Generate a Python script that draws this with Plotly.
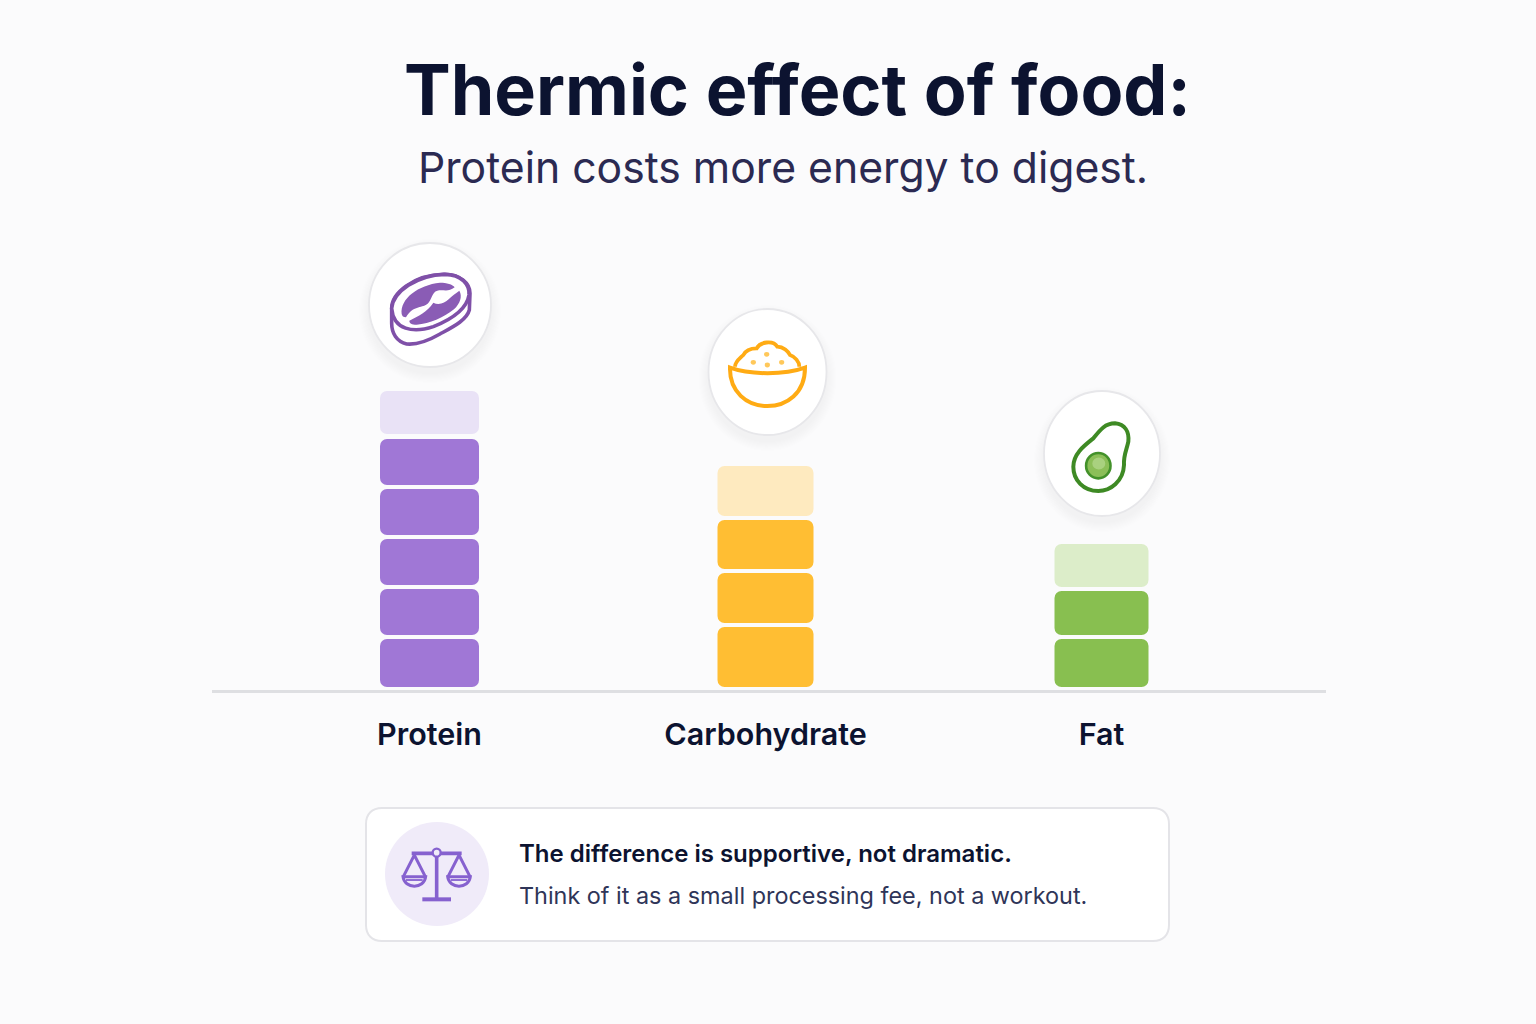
import re
import plotly.graph_objects as go

# ---------- data ----------
categories = ["Protein", "Carbohydrate", "Fat"]
protein_heights = [48, 46, 46, 46, 46, 43]
protein_bases = [3, 55, 105, 155, 205, 256]
protein_colors = ["#a077d6"] * 5 + ["#e9e2f6"]
carb_heights = [60, 50, 49, 50]
carb_bases = [3, 67, 121, 174]
carb_colors = ["#ffbe33"] * 3 + ["#feeabf"]
fat_heights = [48, 44, 43]
fat_bases = [3, 55, 103]
fat_colors = ["#88bf50"] * 2 + ["#dcedc9"]
bar_widths = [99 / 336, 96 / 336, 94 / 336]

TITLE = "Thermic effect of food:"
SUBTITLE = "Protein costs more energy to digest."
NOTE_HEAD = "The difference is supportive, not dramatic."
NOTE_BODY = "Think of it as a small processing fee, not a workout."

W, H = 1536, 1024
INK = "#0c1330"
FONT = "Inter"


def px(path, ox=0.0, oy=0.0, s=1.0):
    """Convert an absolute M/L/C/Z path in pixels to paper coordinates."""
    toks = re.findall(r"[MLCZ]|-?\d+\.?\d*", path)
    out, is_x = [], True
    for t in toks:
        if t in "MLCZ":
            out.append(t)
            is_x = True
        elif is_x:
            out.append(f"{(ox + float(t) * s) / W:.5f}")
            is_x = False
        else:
            out.append(f"{1 - (oy + float(t) * s) / H:.5f}")
            is_x = True
    res, i = [], 0
    while i < len(out):
        if out[i] in "MLCZ":
            res.append(out[i])
            i += 1
        else:
            res.append(out[i] + "," + out[i + 1])
            i += 2
    return " ".join(res)


shapes = []


def ellipse(cx, cy, rx, ry, fill, line=None, lw=0, opacity=1):
    shapes.append(dict(type="circle", xref="paper", yref="paper",
                       x0=(cx - rx) / W, x1=(cx + rx) / W,
                       y0=1 - (cy + ry) / H, y1=1 - (cy - ry) / H,
                       fillcolor=fill, opacity=opacity,
                       line=dict(color=line or "rgba(0,0,0,0)", width=lw)))


def path(d, ox=0.0, oy=0.0, s=1.0, fill=None, line=None, lw=0):
    shapes.append(dict(type="path", xref="paper", yref="paper",
                       path=px(d, ox, oy, s),
                       fillcolor=fill or "rgba(0,0,0,0)",
                       line=dict(color=line or "rgba(0,0,0,0)", width=lw)))


def badge(cx, cy, rx, ry):
    for k in range(9, 0, -1):
        ellipse(cx, cy + 6, rx + k * 1.1, ry + k * 1.1, "#50506e", opacity=0.006)
    ellipse(cx, cy, rx, ry, "#ffffff", "#e7e7ea", 1.8)


# badges
badge(430, 305, 61, 62)
badge(767.5, 372, 59, 63)
badge(1102, 453.5, 58, 62.5)

# meat icon (drawn in 3x crop units)
MO = (350, 230, 1 / 3)
MEAT = "#7f50a8"
path("M 125 235 C 125 190 190 135 280 133 C 330 132 360 160 360 190 L 358 240 "
     "C 350 270 310 290 270 312 C 230 335 200 345 170 342 C 140 335 125 310 125 280 Z",
     *MO, fill="#ffffff", line=MEAT, lw=3.6)
path("M 125 235 C 130 185 200 135 285 133 C 335 133 360 165 357 195 "
     "C 350 240 300 270 250 290 C 190 310 130 300 125 235 Z",
     *MO, fill="#ffffff", line=MEAT, lw=3.6)
path("M 155 252 C 150 205 205 165 270 158 C 290 158 308 163 314 172 C 295 188 280 178 262 182 "
     "C 245 186 245 212 232 222 C 212 236 190 226 168 262 C 160 262 156 258 155 252 Z",
     *MO, fill="#8a5cb5")
path("M 178 272 C 205 258 232 246 250 218 C 265 226 285 220 296 208 C 305 198 318 190 328 182 "
     "C 338 200 330 220 312 238 C 280 262 240 282 200 284 C 185 284 178 280 178 272 Z",
     *MO, fill="#8a5cb5")

# rice bowl
BO = (690, 300, 1 / 3)
GOLD = "#ffab14"
path("M 135 200 C 135 185 150 175 160 165 C 170 145 190 145 200 145 C 210 125 250 120 262 140 "
     "C 280 140 295 155 300 165 C 315 170 328 185 328 200", *BO, line=GOLD, lw=3.8)
path("M 120 203 C 180 225 285 225 345 203 C 345 280 290 318 232 318 C 170 318 118 275 120 203 Z",
     *BO, fill="#ffffff", line=GOLD, lw=4)
for zx, zy in [(230, 163), (190, 187), (232, 195), (275, 187)]:
    ellipse(690 + zx / 3, 300 + zy / 3, 2.6, 2.4, "#ffc85a")

# avocado
AO = (1030, 385, 1 / 3)
path("M 130 245 C 130 205 165 180 190 160 C 210 135 225 115 255 115 C 285 118 298 140 295 170 "
     "C 290 195 280 210 282 240 C 280 290 240 318 205 318 C 160 318 130 285 130 245 Z",
     *AO, fill="#ffffff", line="#3e8a24", lw=4)
ellipse(1098.3, 465.7, 12.2, 12.7, "#8cbf58", "#43912a", 2.6)
ellipse(1098.8, 463.5, 6.5, 6, "#a9d17f")

# note card
card = ("M 382 808 L 1153 808 C 1163 808 1169 814 1169 824 L 1169 925 "
        "C 1169 935 1163 941 1153 941 L 382 941 C 372 941 366 935 366 925 L 366 824 "
        "C 366 814 372 808 382 808 Z")
path(card, fill="#ffffff", line="#e4e4e8", lw=2)
ellipse(437, 874, 52, 52, "#f0ebf9")

# balance scale
SO = (360, 800, 1 / 3)
VIO = "#8661cf"
path("M 155 160 L 305 160", *SO, line=VIO, lw=3.6)
path("M 230 150 L 230 295", *SO, line=VIO, lw=3.6)
path("M 187 298 L 273 298", *SO, line=VIO, lw=4)
ellipse(360 + 230 / 3, 800 + 158 / 3, 4, 4, "#f0ebf9", VIO, 2.4)
for c in (163, 297):
    path(f"M {c - 33} 230 L {c} 165 L {c + 33} 230", *SO, line=VIO, lw=3)
    path(f"M {c - 34} 230 L {c + 34} 230 C {c + 30} 268 {c - 30} 268 {c - 34} 230 Z",
         *SO, line=VIO, lw=3)
    path(f"M {c - 25} 240 L {c + 25} 240", *SO, line=VIO, lw=1.8)

# ---------- figure ----------
fig = go.Figure()
for cat, hts, bases, cols, wd in zip(
        categories,
        [protein_heights, carb_heights, fat_heights],
        [protein_bases, carb_bases, fat_bases],
        [protein_colors, carb_colors, fat_colors],
        bar_widths):
    fig.add_bar(x=[cat] * len(hts), y=hts, base=bases, width=wd,
                marker=dict(color=cols, cornerradius=7, line=dict(width=0)),
                hoverinfo="skip", showlegend=False, name=cat)


def note(x, y, text, size, color, weight=400, anchor="center"):
    return dict(xref="paper", yref="paper", x=x / W, y=1 - y / H, text=text,
                showarrow=False, xanchor=anchor, yanchor="middle",
                font=dict(family=FONT, size=size, color=color, weight=weight))


fig.update_layout(
    width=W, height=H, margin=dict(l=0, r=0, t=0, b=0, pad=0),
    paper_bgcolor="#fbfbfc", plot_bgcolor="rgba(0,0,0,0)",
    barmode="overlay", showlegend=False, shapes=shapes,
    font=dict(family=FONT),
    annotations=[
        note(797, 89, TITLE, 70, INK, 700),
        note(783, 167, SUBTITLE, 42.7, "#2b2a52", 400),
        note(517, 853, NOTE_HEAD, 24, INK, 600, "left"),
        note(517, 895, NOTE_BODY, 23.4, "#2f3558", 400, "left"),
    ],
    xaxis=dict(type="category", categoryorder="array", categoryarray=categories,
               domain=[212 / W, 1326 / W], range=[(212 - 429.5) / 336, (1326 - 429.5) / 336],
               showline=True, linecolor="#dedfe2", linewidth=3,
               showgrid=False, zeroline=False, ticks="", ticklabelstandoff=15,
               tickfont=dict(family=FONT, size=30.5, color=INK, weight=600)),
    yaxis=dict(domain=[(H - 690) / H, 1], range=[0, 690], visible=False, fixedrange=True),
)

fig.write_html("out.html", config=dict(displayModeBar=False),
               post_script="document.body.style.margin='0';document.body.style.background='#fbfbfc';")
